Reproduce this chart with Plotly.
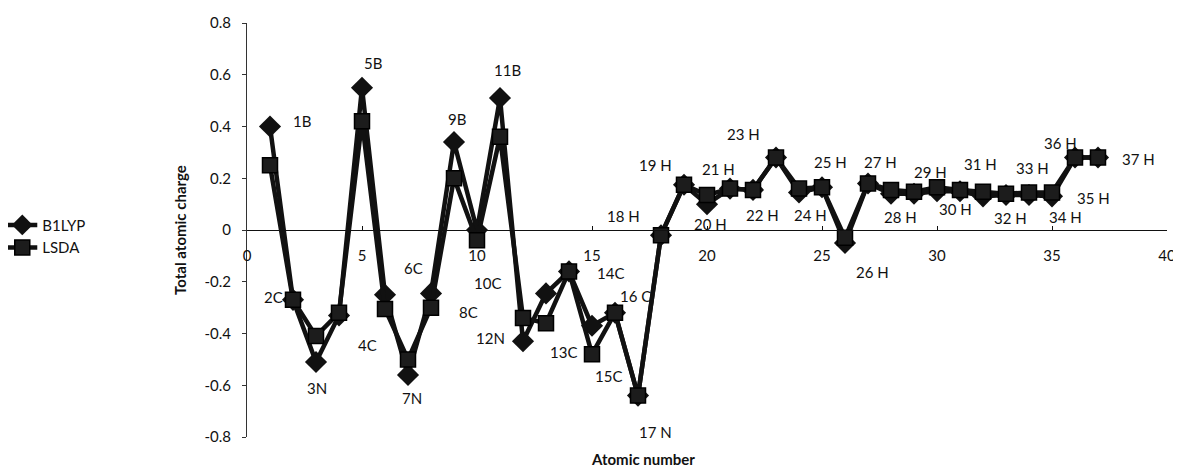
import plotly.graph_objects as go

atomic_number = list(range(1, 38))
b1lyp = [0.40, -0.27, -0.51, -0.33, 0.55, -0.25, -0.56, -0.245, 0.34, 0.00,
         0.51, -0.43, -0.245, -0.16, -0.37, -0.32, -0.64, -0.02, 0.175, 0.10,
         0.16, 0.155, 0.28, 0.145, 0.165, -0.05, 0.18, 0.14, 0.14, 0.15,
         0.15, 0.13, 0.135, 0.135, 0.13, 0.28, 0.28]
lsda = [0.25, -0.27, -0.41, -0.32, 0.42, -0.305, -0.50, -0.30, 0.20, -0.04,
        0.36, -0.34, -0.36, -0.16, -0.48, -0.32, -0.64, -0.02, 0.175, 0.135,
        0.16, 0.155, 0.28, 0.16, 0.165, -0.03, 0.18, 0.155, 0.148, 0.165,
        0.155, 0.148, 0.14, 0.145, 0.145, 0.28, 0.28]
point_labels = ["1B", "2C", "3N", "4C", "5B", "6C", "7N", "8C", "9B", "10C",
                "11B", "12N", "13C", "14C", "15C", "16 C", "17 N", "18 H", "19 H", "20 H",
                "21 H", "22 H", "23 H", "24 H", "25 H", "26 H", "27 H", "28 H", "29 H", "30 H",
                "31 H", "32 H", "33 H", "34 H", "35 H", "36 H", "37 H"]
x_ticks = [0, 5, 10, 15, 20, 25, 30, 35, 40]
y_ticks = [0.8, 0.6, 0.4, 0.2, 0, -0.2, -0.4, -0.6, -0.8]
y_tick_text = ["0.8", "0.6", "0.4", "0.2", "0", "-0.2", "-0.4", "-0.6", "-0.8"]

# label pixel offsets (dx right, dy up) relative to the B1LYP point
label_offsets = [(32, 6), (-20, 3), (1, -26), (28, -30), (11, 25), (28, 27), (4, -23),
                 (37, -19), (3, 23), (10, -53), (7, 28), (-33, 3), (17, -59), (41, -2),
                 (16, -50), (20, 17), (17, -36), (-38, 19), (-29, 20), (3, -20), (-12, 20),
                 (9, -25), (-33, 24), (11, -23), (8, 25), (27, -29), (12, 21), (9, -23),
                 (16, 22), (18, -18), (20, 27), (27, -22), (26, 27), (36, -22), (41, -2),
                 (-15, 15), (40, -1)]

FONT = "Lato, Open Sans, sans-serif"
INK = "#111111"

fig = go.Figure()
fig.add_trace(go.Scatter(
    x=atomic_number, y=b1lyp, name="B1LYP", mode="lines+markers",
    line=dict(color=INK, width=4.5),
    marker=dict(symbol="diamond", size=17, color=INK),
))
fig.add_trace(go.Scatter(
    x=atomic_number, y=lsda, name="LSDA", mode="lines+markers",
    line=dict(color=INK, width=4.5),
    marker=dict(symbol="square", size=15, color="#1c1c1c",
                line=dict(color="#000000", width=1.5)),
))

for n, v, t, (dx, dy) in zip(atomic_number, b1lyp, point_labels, label_offsets):
    fig.add_annotation(x=n, y=v, text=t, showarrow=False, xshift=dx, yshift=dy,
                       font=dict(family=FONT, size=15, color=INK))

fig.add_annotation(x=0.43, y=0, xref="paper", yref="paper", yshift=-11,
                   text="<b>Atomic number</b>", showarrow=False,
                   font=dict(family=FONT, size=15, color=INK), yanchor="top")

fig.update_layout(
    width=1173, height=464,
    margin=dict(l=239, r=14, t=15, b=35, autoexpand=False),
    paper_bgcolor="white", plot_bgcolor="white",
    font=dict(family=FONT, size=15, color=INK),
    showlegend=True,
    legend=dict(x=-0.266, y=0.485, xanchor="left", yanchor="middle",
                font=dict(family=FONT, size=15, color=INK),
                tracegroupgap=0, itemwidth=30, bgcolor="rgba(0,0,0,0)"),
    xaxis=dict(range=[0, 40], tickvals=x_ticks, ticktext=[str(v) for v in x_ticks],
               showgrid=False, zeroline=False, showline=True, linecolor=INK,
               linewidth=1, anchor="free", position=0.5, ticks="inside", ticklen=4,
               tickcolor=INK, ticklabelstandoff=12, automargin=False,
               tickfont=dict(family=FONT, size=15, color=INK)),
    yaxis=dict(range=[-0.8, 0.8], tickvals=y_ticks, ticktext=y_tick_text,
               showgrid=False, zeroline=False, showline=True, linecolor="#333333",
               linewidth=1, ticks="outside", ticklen=4, tickcolor="#333333",
               ticklabelstandoff=8, automargin=False,
               title=dict(text="<b>Total atomic charge</b>", standoff=14,
                          font=dict(family=FONT, size=15, color=INK)),
               tickfont=dict(family=FONT, size=15, color=INK)),
)

fig.write_html("out.html")
